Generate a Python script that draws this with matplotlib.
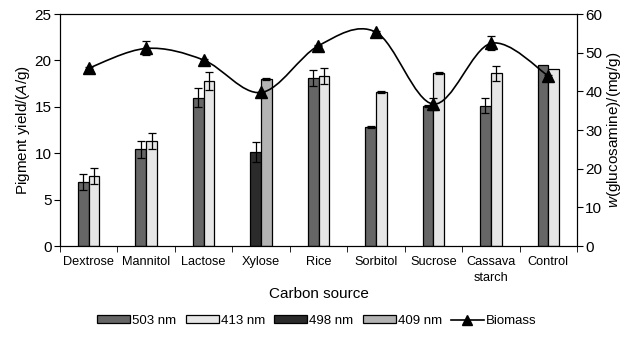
import numpy as np
import matplotlib as mpl
import matplotlib.pyplot as plt
from matplotlib.path import Path
from matplotlib.patches import PathPatch, Patch
from matplotlib.lines import Line2D

plt.rcParams['font.family'] = ['Liberation Sans', 'DejaVu Sans']
plt.rcParams['mathtext.fontset'] = 'custom'
plt.rcParams['mathtext.rm'] = 'Liberation Sans'
plt.rcParams['mathtext.it'] = 'Liberation Sans:italic'

##############
# data
##############

sources = ['Dextrose', 'Mannitol', 'Lactose', 'Xylose', 'Rice',
           'Sorbitol', 'Sucrose', 'Cassava\nstarch', 'Control']

pig_503 = [6.9, 10.4, 16.0, np.nan, 18.1, 12.85, 15.1, 15.1, 19.5]
err_503 = [0.85, 0.9, 1.0, np.nan, 0.85, 0.1, 0.1, 0.8, np.nan]
pig_413 = [7.55, 11.3, 17.8, np.nan, 18.35, 16.6, 18.6, 18.6, 19.05]
err_413 = [0.85, 0.9, 1.0, np.nan, 0.85, 0.1, 0.1, 0.85, np.nan]
pig_498 = [np.nan, np.nan, np.nan, 10.1, np.nan, np.nan, np.nan, np.nan, np.nan]
err_498 = [np.nan, np.nan, np.nan, 1.1, np.nan, np.nan, np.nan, np.nan, np.nan]
pig_409 = [np.nan, np.nan, np.nan, 18.0, np.nan, np.nan, np.nan, np.nan, np.nan]
err_409 = [np.nan, np.nan, np.nan, 0.1, np.nan, np.nan, np.nan, np.nan, np.nan]

biomass = [46.0, 51.1, 48.1, 39.7, 51.8, 55.3, 36.7, 52.4, 44.0]
bio_err = [0.2, 1.8, 0.2, 0.2, 0.2, 0.2, 1.6, 1.8, 0.2]

##############
# plot
##############

fig = plt.figure(figsize=(6.34, 3.43), dpi=100)
ax = fig.add_axes([60 / 634, 1 - 246 / 343, 517 / 634, 232 / 343])
ax2 = ax.twinx()

x = np.arange(len(sources))
w = 0.186

series = [
    (pig_503, err_503, '#666666', -w / 2),
    (pig_413, err_413, '#e6e6e6', w / 2),
    (pig_498, err_498, '#2b2b2b', -w / 2),
    (pig_409, err_409, '#b3b3b3', w / 2),
]
for vals, errs, col, off in series:
    vals = np.array(vals)
    errs = np.array(errs)
    m = ~np.isnan(vals)
    ax.bar(x[m] + off, vals[m], w, color=col, edgecolor='black', linewidth=0.9, zorder=2)
    me = m & ~np.isnan(errs)
    ax.errorbar(x[me] + off, vals[me], yerr=errs[me], fmt='none', ecolor='black',
                elinewidth=0.9, capsize=3.2, capthick=0.9, zorder=3)

ax.set_xlim(-0.5, len(sources) - 0.5)
ax.set_ylim(0, 25)
ax.set_yticks([0, 5, 10, 15, 20, 25])
ax.set_xticks(x)
ax.set_xticklabels(sources, fontsize=9.2, linespacing=1.5)
ax.set_xticks(np.arange(-0.5, len(sources)), minor=True)
ax.tick_params(axis='x', which='major', length=0, pad=7)
ax.tick_params(axis='x', which='minor', length=4, direction='out')
ax.tick_params(axis='y', labelsize=11, length=4, direction='out', pad=2)
ax.set_ylabel('Pigment yield/($\\it{A}$/g)', fontsize=11, labelpad=2)
ax.set_xlabel('Carbon source', fontsize=11, labelpad=2)

# smoothed biomass line (bezier through points)
pts = np.column_stack([x, biomass]).astype(float)
ext = np.vstack([pts[0], pts, pts[-1]])
verts = [tuple(pts[0])]
codes = [Path.MOVETO]
for i in range(len(pts) - 1):
    p0, p1, p2, p3 = ext[i], ext[i + 1], ext[i + 2], ext[i + 3]
    verts += [tuple(p1 + (p2 - p0) / 6), tuple(p2 - (p3 - p1) / 6), tuple(p2)]
    codes += [Path.CURVE4] * 3
ax2.add_patch(PathPatch(Path(verts, codes), facecolor='none', edgecolor='black', lw=1.2, zorder=4))
ax2.errorbar(x, biomass, yerr=bio_err, fmt='^', color='black', ms=8.5,
             elinewidth=0.9, capsize=3.2, capthick=0.9, zorder=5)
ax2.set_ylim(0, 60)
ax2.set_yticks(range(0, 61, 10))
ax2.tick_params(axis='y', labelsize=11, length=4, direction='out', pad=2)
ax2.set_ylabel('$\\it{w}$(glucosamine)/(mg/g)', fontsize=11, labelpad=2)

handles = [
    Patch(facecolor='#666666', edgecolor='black', linewidth=0.9),
    Patch(facecolor='#e6e6e6', edgecolor='black', linewidth=0.9),
    Patch(facecolor='#2b2b2b', edgecolor='black', linewidth=0.9),
    Patch(facecolor='#b3b3b3', edgecolor='black', linewidth=0.9),
    Line2D([], [], color='black', marker='^', ms=7, lw=1.2),
]
labels = ['503 nm', '413 nm', '498 nm', '409 nm', 'Biomass']
fig.legend(handles, labels, loc='center', bbox_to_anchor=(317 / 634, 1 - 321 / 343),
           ncol=5, frameon=False, fontsize=9.5, handlelength=2.5, handleheight=0.55,
           handletextpad=0.15, columnspacing=0.7)

fig.savefig('out.png', dpi=100)
